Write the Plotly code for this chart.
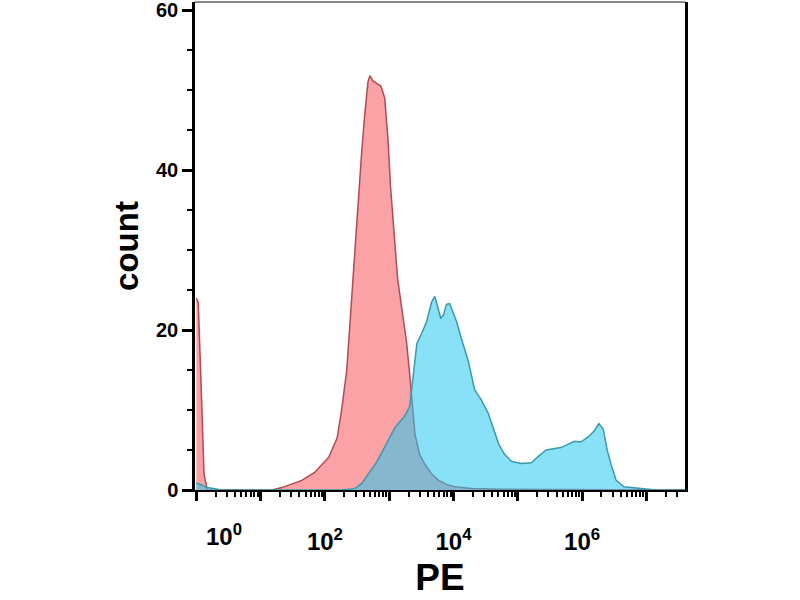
import plotly.graph_objects as go

# histogramme PE : positions en log10(PE), comptes
red_log10 = [0.00, 0.03, 0.08, 0.12, 0.17, 1.18, 1.33, 1.64, 1.84, 2.06, 2.19, 2.26,
             2.34, 2.42, 2.48, 2.53, 2.57, 2.62, 2.67, 2.70, 2.74, 2.81, 2.87, 2.93,
             2.98, 3.02, 3.07, 3.13, 3.19, 3.27, 3.33, 3.40, 3.47, 3.55, 3.66, 3.77,
             3.89, 4.02, 4.28, 4.74, 5.52, 7.07, 7.60]
red_count = [24, 23.5, 12, 2, 0, 0, 0.3, 1.2, 2.2, 4.1, 6.5, 10,
             15, 24.5, 32, 37, 42, 47, 51, 51.8, 51.2, 50.8, 50.5, 49,
             44, 38, 32.5, 26.5, 23, 18.5, 13.5, 7, 4.5, 3.3, 2, 1.2,
             0.7, 0.4, 0.2, 0.1, 0.05, 0.05, 0]

blue_log10 = [0.00, 0.03, 0.17, 0.40, 2.26, 2.47, 2.57, 2.68, 2.79, 2.88, 2.99, 3.09,
              3.16, 3.24, 3.32, 3.38, 3.43, 3.50, 3.58, 3.66, 3.71, 3.75, 3.80, 3.84,
              3.89, 3.94, 3.98, 4.05, 4.12, 4.23, 4.33, 4.43, 4.54, 4.62, 4.70, 4.79,
              4.90, 5.05, 5.21, 5.32, 5.44, 5.67, 5.88, 5.98, 6.09, 6.19, 6.26, 6.33,
              6.39, 6.45, 6.53, 6.65, 6.91, 7.15, 7.60]
blue_count = [0.8, 0.8, 0.3, 0, 0, 0.2, 0.8, 2, 3.3, 4.6, 6.3, 7.8,
              8.5, 9.2, 10.5, 15, 18.3, 19.5, 21, 23.5, 24.2, 23, 21.5, 21.8,
              23.2, 23.3, 22.5, 21, 19, 16.1, 12.5, 11.3, 9.6, 7.8, 5.8, 4.5,
              3.6, 3.3, 3.4, 4.2, 5.0, 5.3, 6.1, 6.0, 6.6, 7.4, 8.3, 7.6,
              5, 3.2, 1.2, 0.4, 0.2, 0, 0]

decades = [0, 1, 2, 3, 4, 5, 6, 7]
decade_labels = ["", "", "10<sup>2</sup>", "", "10<sup>4</sup>", "", "10<sup>6</sup>", ""]
first_label = "10<sup>0</sup>"
y_ticks = [0, 20, 40, 60]

font = "Liberation Sans, Arial, sans-serif"

fig = go.Figure()

fig.add_trace(go.Scatter(
    x=[10 ** v for v in red_log10], y=red_count,
    mode="lines", fill="tozeroy",
    line=dict(color="#b04a55", width=1.5),
    fillcolor="rgb(250,162,166)",
    showlegend=False,
))

fig.add_trace(go.Scatter(
    x=[10 ** v for v in blue_log10], y=blue_count,
    mode="lines", fill="tozeroy",
    line=dict(color="#3a9aab", width=1.5),
    fillcolor="rgba(40,200,240,0.55)",
    showlegend=False,
))

fig.update_layout(
    width=800, height=600,
    margin=dict(l=195, r=115, t=2, b=110),
    plot_bgcolor="white", paper_bgcolor="white",
    font=dict(family=font, color="black"),
)

fig.update_xaxes(
    type="log", range=[-0.02, 7.6], automargin=False,
    tickvals=[10 ** d for d in decades], ticktext=decade_labels,
    ticks="outside", ticklen=9, tickwidth=3, tickcolor="black",
    minor=dict(ticks="outside", ticklen=5, tickwidth=1.5, tickcolor="black", dtick="D1"),
    ticklabelstandoff=20,
    tickfont=dict(size=24, family=font, weight="bold"),
    showline=True, linecolor="black", linewidth=2,
    showgrid=False, zeroline=False,
    title=dict(text="<b>PE</b>", font=dict(size=37, family=font), standoff=10),
)

fig.update_yaxes(
    range=[0, 61], automargin=False,
    tickvals=y_ticks,
    ticks="outside", ticklen=10, tickwidth=2.5, tickcolor="black",
    minor=dict(ticks="outside", ticklen=5, tickwidth=1.5, tickcolor="black", dtick=5),
    tickfont=dict(size=20, family=font, weight="bold"),
    ticklabeloverflow="allow",
    showline=True, linecolor="black", linewidth=2.5, mirror=True,
    showgrid=False, zeroline=False,
    title=dict(text="<b>count</b>", font=dict(size=33, family=font), standoff=8),
)

# cadre du haut gris
fig.add_shape(type="line", xref="paper", yref="paper", x0=0, x1=1, y0=1, y1=1,
              line=dict(color="#8a8a8a", width=2))

# étiquette 10^0 décalée vers la droite comme sur l'original
fig.add_annotation(x=decades[0], y=0, xref="x", yref="paper",
                   text="<b>" + first_label + "</b>", showarrow=False,
                   xshift=28, yshift=-28, yanchor="top",
                   font=dict(size=24, family=font))

fig.write_html("out.html", config={"displayModeBar": False},
               post_script="document.body.style.margin='0';")
